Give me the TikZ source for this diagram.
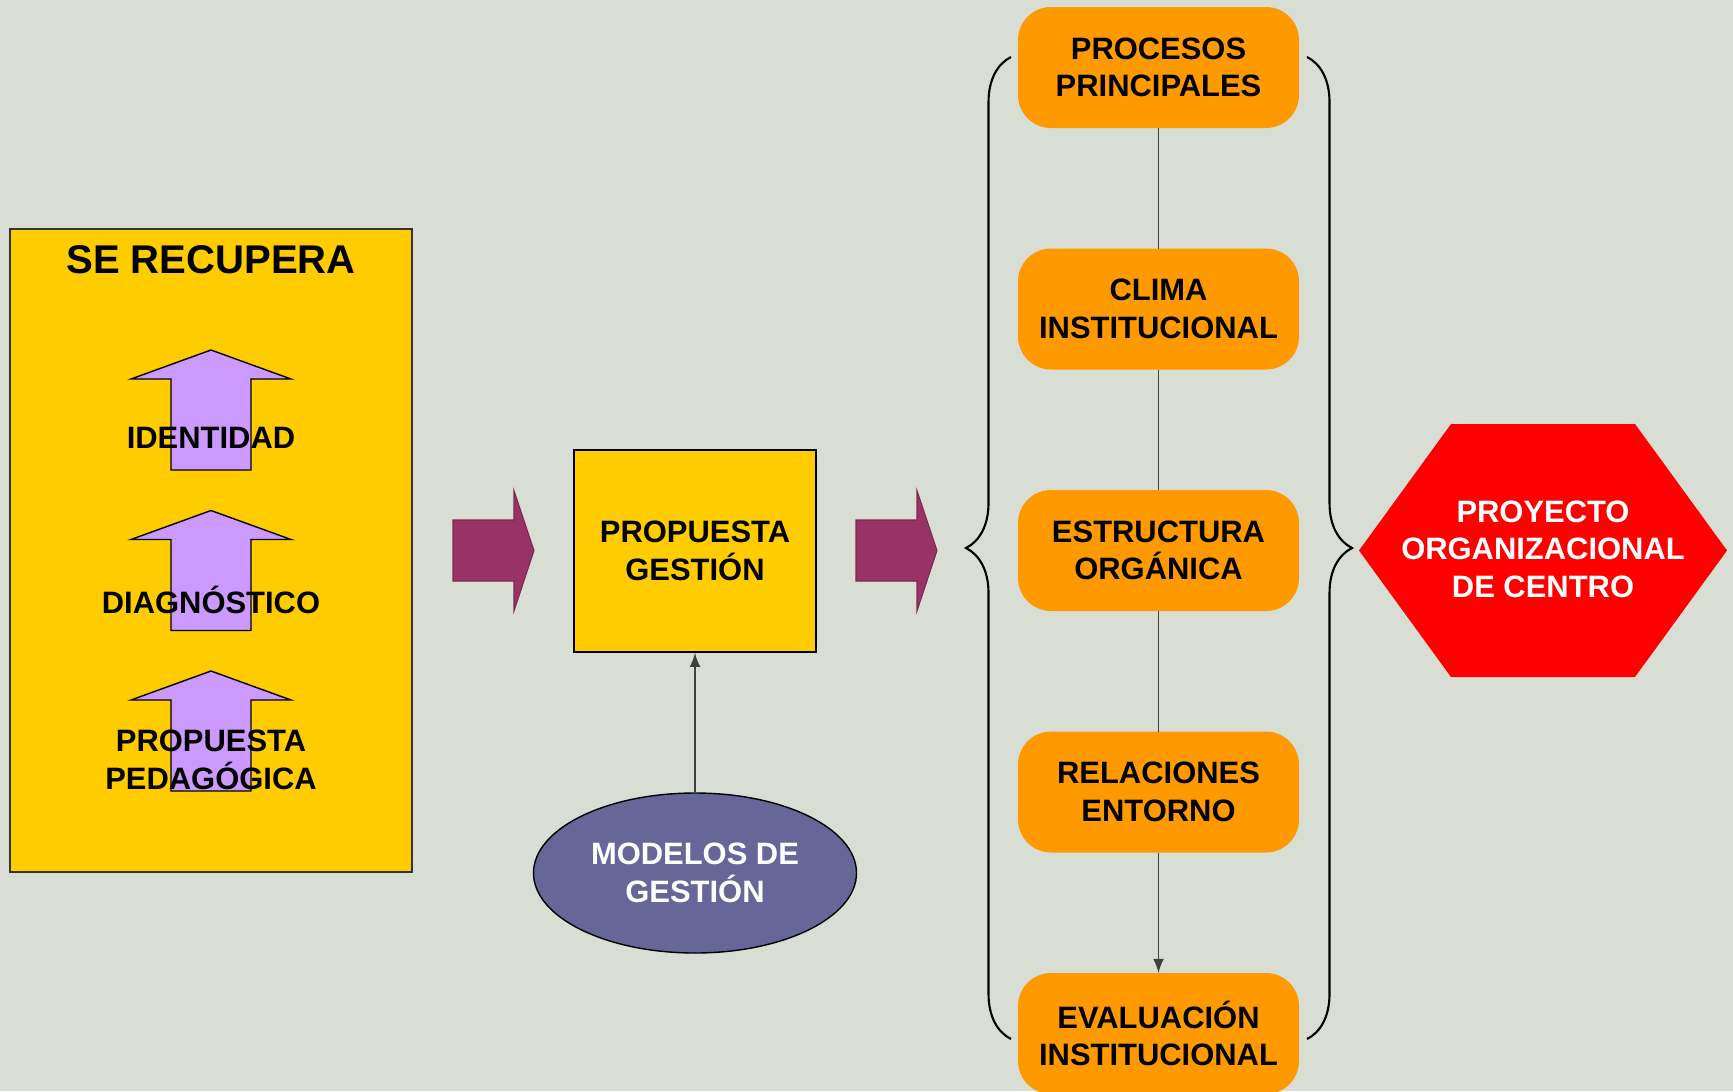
\documentclass[tikz,border=0pt]{standalone}
\usepackage{fontspec}
\setmainfont{Liberation Sans}
\usepackage{tikz}
\usetikzlibrary{arrows,positioning,decorations.pathreplacing,shapes.geometric}
\definecolor{fondo}{RGB}{217,222,213}
\definecolor{amarillo}{RGB}{255,204,0}
\definecolor{lila}{RGB}{204,153,255}
\definecolor{granate}{RGB}{153,51,102}
\definecolor{naranja}{RGB}{255,153,0}
\definecolor{azulgris}{RGB}{102,102,153}

\begin{document}
\begin{tikzpicture}[
font=\bfseries\fontsize{8.8}{10.7}\selectfont,
caja/.style={rectangle,fill=naranja,rounded corners=0.33cm,minimum width=2.81cm,minimum height=1.21cm,align=center,inner sep=0pt,outer sep=0pt},
flecha/.style={fill=granate,draw=granate!80!black,line width=0.3pt},
subir/.style={fill=lila,draw=black,line width=0.4pt},
llave/.style={decorate,decoration={brace,amplitude=0.45cm},line width=0.6pt},
liga/.style={draw=black!75,line width=0.4pt},
>=latex,
node distance=1.205cm]
    % fondo
    \fill[fondo] (0,0) rectangle (17.33,-10.91);
    \useasboundingbox (0,0) rectangle (17.33,-10.91);

    % se recupera
    \node[draw=black!80,fill=amarillo,minimum width=4.02cm,minimum height=6.43cm,inner sep=0pt] (recupera) at (2.11,-5.505) {};
    \node[font=\bfseries\fontsize{11.4}{13}\selectfont] (titulo) at (2.11,-2.60) {SE RECUPERA};
    \foreach \t in {3.50,5.105,6.71}
        \draw[subir] (2.11,-\t) -- ++(0.80,-0.29) -- ++(-0.40,0) -- ++(0,-0.91)
            -- ++(-0.80,0) -- ++(0,0.91) -- ++(-0.40,0) -- cycle;
    \node (identidad) at (2.11,-4.38) {IDENTIDAD};
    \node (diagnostico) at (2.11,-6.00) {DIAGNÓSTICO};
    \node[align=center] (pedagogica) at (2.11,-7.60) {PROPUESTA\\PEDAGÓGICA};

    % flechas grandes
    \foreach \x in {4.53,8.56}
        \draw[flecha] (\x,-5.20) -- ++(0.61,0) -- ++(0,0.295) -- ++(0.20,-0.60)
            -- ++(-0.20,-0.605) -- ++(0,0.30) -- ++(-0.61,0) -- cycle;

    % propuesta gestion
    \node[draw=black,fill=amarillo,minimum width=2.42cm,minimum height=2.02cm,align=center] (gestion) at (6.95,-5.51) {PROPUESTA\\GESTIÓN};
    \node[ellipse,draw=black,fill=azulgris,text=white,minimum width=3.23cm,minimum height=1.60cm,align=center,inner sep=0pt] (modelos) at (6.95,-8.73) {MODELOS DE\\GESTIÓN};
    \draw[liga,->] (modelos) -- (gestion);

    % procesos
    \node[caja] (procesos) at (11.585,-0.675) {PROCESOS\\PRINCIPALES};
    \node[caja,below=of procesos] (clima) {CLIMA\\INSTITUCIONAL};
    \node[caja,below=of clima] (estructura) {ESTRUCTURA\\ORGÁNICA};
    \node[caja,below=of estructura] (relaciones) {RELACIONES\\ENTORNO};
    \node[caja,below=of relaciones] (evaluacion) {EVALUACIÓN\\INSTITUCIONAL};
    \draw[liga] (procesos) -- (clima);
    \draw[liga] (clima) -- (estructura);
    \draw[liga] (estructura) -- (relaciones);
    \draw[liga,->] (relaciones) -- (evaluacion);

    % llaves
    \coordinate (llaveA) at (10.11,-10.39);
    \coordinate (llaveB) at (10.11,-0.57);
    \coordinate (llaveC) at (13.07,-0.57);
    \coordinate (llaveD) at (13.07,-10.39);
    \draw[llave] (llaveA) -- (llaveB);
    \draw[llave] (llaveC) -- (llaveD);

    % proyecto
    \fill[red] (13.59,-5.505) -- (14.51,-4.24) -- (16.35,-4.24) -- (17.27,-5.505)
        -- (16.35,-6.77) -- (14.51,-6.77) -- cycle;
    \node[text=white,align=center] (proyecto) at (15.43,-5.49) {PROYECTO\\ORGANIZACIONAL\\DE CENTRO};
\end{tikzpicture}
\end{document}
